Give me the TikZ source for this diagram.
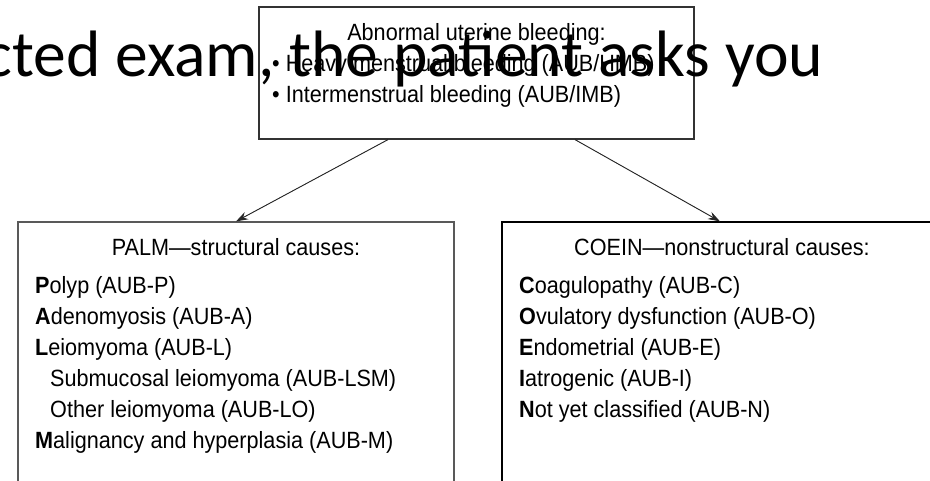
\documentclass[tikz,border=0pt]{standalone}
\usepackage{fontspec}
\setmainfont{Liberation Sans}
\newfontfamily\narrowfont[FakeStretch=0.92]{Liberation Sans}
\newfontfamily\slidefont{Carlito}
\usetikzlibrary{arrows.meta,calc}
\tikzset{
  boxstyle/.style={draw=black!80, line width=1.2pt, rectangle, inner sep=0pt},
  txt/.style={font=\narrowfont\fontsize{23.5}{28}\selectfont, inner sep=0pt, anchor=base west},
  ctxt/.style={txt, anchor=base},
  arr/.style={-{Stealth[length=12pt,width=8pt]}, line width=0.9pt, draw=black!85, fill=black},
  slidetxt/.style={font=\slidefont\fontsize{65.6}{70}\selectfont, inner sep=0pt, anchor=base west}
}
\begin{document}
\begin{tikzpicture}[x=1pt,y=-1pt]
\useasboundingbox (0,0) rectangle (930,480);
\clip (0,0) rectangle (930,480);
\fill[white] (0,0) rectangle (930,480);
% boxes
\node[boxstyle, minimum width=435pt, minimum height=132pt] (top) at (476.5,73) {};
\node[boxstyle, draw=black!65, minimum width=436pt, minimum height=270pt] (left) at (236,357) {};
\node[boxstyle, draw=black, minimum width=436pt, minimum height=270pt] (right) at (720,357) {};
% connectors
\draw[arr] ($(top.south)+(-88.5,0)$) -- (left.north);
\draw[arr] ($(top.south)+(98.5,0)$) -- (right.north);
% top box text
\node[ctxt] (t0) at (476.5,40) {Abnormal uterine bleeding:};
\node[txt] (t1) at (272,71) {\textbullet\ Heavy menstrual bleeding (AUB/HMB)};
\node[txt] (t2) at (272,102) {\textbullet\ Intermenstrual bleeding (AUB/IMB)};
% left box text
\node[ctxt] (lt) at (236,255) {PALM—structural causes:};
\node[txt] (l1) at (35,293) {\textbf{P}olyp (AUB-P)};
\node[txt] (l2) at (35,324) {\textbf{A}denomyosis (AUB-A)};
\node[txt] (l3) at (35,355) {\textbf{L}eiomyoma (AUB-L)};
\node[txt] (l4) at (50,386) {Submucosal leiomyoma (AUB-LSM)};
\node[txt] (l5) at (50,417) {Other leiomyoma (AUB-LO)};
\node[txt] (l6) at (35,448) {\textbf{M}alignancy and hyperplasia (AUB-M)};
% right box text
\node[ctxt] (rt) at (722,255) {COEIN—nonstructural causes:};
\node[txt] (r1) at (519,293) {\textbf{C}oagulopathy (AUB-C)};
\node[txt] (r2) at (519,324) {\textbf{O}vulatory dysfunction (AUB-O)};
\node[txt] (r3) at (519,355) {\textbf{E}ndometrial (AUB-E)};
\node[txt] (r4) at (519,386) {\textbf{I}atrogenic (AUB-I)};
\node[txt] (r5) at (519,417) {\textbf{N}ot yet classified (AUB-N)};
% overlapping slide text
\node[slidetxt] (slide) at (-15.6,76) {cted exam, the patient asks you};
\end{tikzpicture}
\end{document}
